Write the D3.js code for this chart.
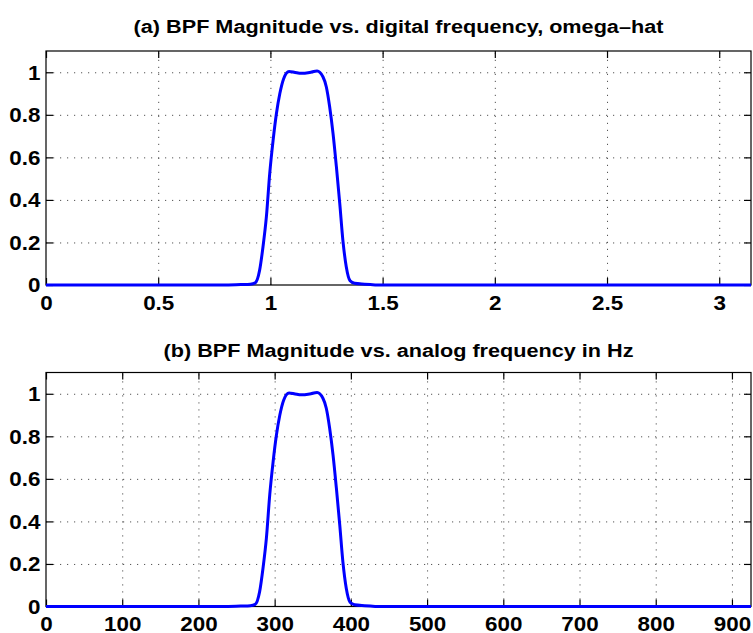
<!DOCTYPE html>
<html>
<head>
<meta charset="utf-8">
<script src="https://cdn.jsdelivr.net/npm/d3@7"></script>
<style>
  body { margin: 0; background: #fff; }
  svg { display: block; }
  .tick text { font-family: "Liberation Sans", Arial, Helvetica, sans-serif; font-weight: bold; fill: #000; }
  .title { font-family: "Liberation Sans", Arial, Helvetica, sans-serif; font-weight: bold; fill: #000; }
  .grid line { stroke: #555; stroke-width: 1; stroke-dasharray: 1.2,5.8; }
  .grid path { display: none; }
</style>
</head>
<body>
<svg id="chart" width="753" height="633"></svg>
<script>
// ---- data ----
const omegaHat = [0, 0.80, 0.87, 0.91, 0.932, 0.952, 0.967, 0.982, 0.997, 1.012, 1.027, 1.042, 1.059,
  1.083, 1.110, 1.138, 1.175, 1.208, 1.234, 1.249, 1.264, 1.279, 1.294, 1.309, 1.323, 1.338,
  1.355, 1.375, 1.42, 1.50, Math.PI]
const magnitude = [0, 0, 0.002, 0.004, 0.01, 0.07, 0.18, 0.32, 0.525, 0.68, 0.807, 0.90, 0.97,
  1.004, 0.999, 0.995, 0.999, 1.006, 0.979, 0.932, 0.838, 0.713, 0.556, 0.384, 0.21, 0.086,
  0.02, 0.008, 0.004, 0, 0]
const fs = 1850 // sampling rate, Hz -> pi maps to fs/2

const omegaTicks = [0, 0.5, 1, 1.5, 2, 2.5, 3]
const hzTicks = [0, 100, 200, 300, 400, 500, 600, 700, 800, 900]
const magTicks = [0, 0.2, 0.4, 0.6, 0.8, 1]
const titles = [
  '(a) BPF Magnitude vs. digital frequency, omega\u2013hat',
  '(b) BPF Magnitude vs. analog frequency in Hz'
]

// ---- layout ----
const left = 46, right = 751, plotH = 234
const panels = [
  { top: 51, xMax: Math.PI, xTicks: omegaTicks, xs: omegaHat, title: titles[0], titleY: 32.5, pad: 11.5 },
  { top: 372.5, xMax: fs / 2, xTicks: hzTicks, xs: omegaHat.map(w => w * fs / (2 * Math.PI)), title: titles[1], titleY: 356.5, pad: 10.5 }
]
const tickFont = 19.5, tickStretch = 1.15
const titleFont = 18.5, titleStretch = 1.17
const tickLen = 7

const svg = d3.select('#chart')
svg.append('rect').attr('width', 753).attr('height', 633).attr('fill', '#fff')

function fmt(v) { return d3.format('~g')(v) }

panels.forEach(p => {
  const bottom = p.top + plotH
  const x = d3.scaleLinear().domain([0, p.xMax]).range([left, right])
  const y = d3.scaleLinear().domain([0, 1.1]).range([bottom, p.top])
  const g = svg.append('g')

  // dotted grid
  g.append('g').attr('class', 'grid')
    .attr('transform', 'translate(0,' + bottom + ')')
    .call(d3.axisBottom(x).tickValues(p.xTicks.filter(t => t > 0)).tickSize(-plotH).tickFormat(''))
  g.append('g').attr('class', 'grid')
    .attr('transform', 'translate(' + left + ',0)')
    .call(d3.axisLeft(y).tickValues(magTicks.filter(t => t > 0)).tickSize(-(right - left)).tickFormat(''))

  // box
  g.append('rect')
    .attr('x', left).attr('y', p.top)
    .attr('width', right - left).attr('height', plotH)
    .attr('fill', 'none').attr('stroke', '#000').attr('stroke-width', 1.2)

  // ticks on all four sides, pointing inward
  const xb = g.append('g').attr('transform', 'translate(0,' + bottom + ')')
    .call(d3.axisBottom(x).tickValues(p.xTicks).tickSizeInner(-tickLen).tickSizeOuter(0).tickPadding(p.pad).tickFormat(fmt))
  g.append('g').attr('transform', 'translate(0,' + p.top + ')')
    .call(d3.axisTop(x).tickValues(p.xTicks).tickSizeInner(-tickLen).tickSizeOuter(0).tickFormat(''))
  const yl = g.append('g').attr('transform', 'translate(' + left + ',0)')
    .call(d3.axisLeft(y).tickValues(magTicks).tickSizeInner(-tickLen).tickSizeOuter(0).tickFormat(fmt))
  g.append('g').attr('transform', 'translate(' + right + ',0)')
    .call(d3.axisRight(y).tickValues(magTicks).tickSizeInner(-tickLen).tickSizeOuter(0).tickFormat(''))

  g.selectAll('.domain').remove()
  g.selectAll('.tick line').attr('stroke', '#000').attr('stroke-width', 1.2)

  xb.selectAll('text')
    .style('font-size', tickFont + 'px')
    .attr('transform', 'scale(' + tickStretch + ',1)')
  yl.selectAll('text')
    .style('font-size', tickFont + 'px')
    .attr('x', -5.5 / tickStretch)
    .attr('dy', '0.35em')
    .attr('transform', 'scale(' + tickStretch + ',1)')

  // magnitude curve
  const line = d3.line()
    .x((d, i) => x(p.xs[i]))
    .y(d => y(d))
    .curve(d3.curveMonotoneX)
  g.append('path')
    .datum(magnitude)
    .attr('d', line)
    .attr('fill', 'none')
    .attr('stroke', '#0000ff')
    .attr('stroke-width', 3)
    .attr('stroke-linejoin', 'round')

  // title
  const cx = (left + right) / 2
  svg.append('text')
    .attr('class', 'title')
    .attr('transform', 'translate(' + cx + ',' + p.titleY + ') scale(' + titleStretch + ',1)')
    .attr('text-anchor', 'middle')
    .style('font-size', titleFont + 'px')
    .text(p.title)
})
</script>
</body>
</html>
